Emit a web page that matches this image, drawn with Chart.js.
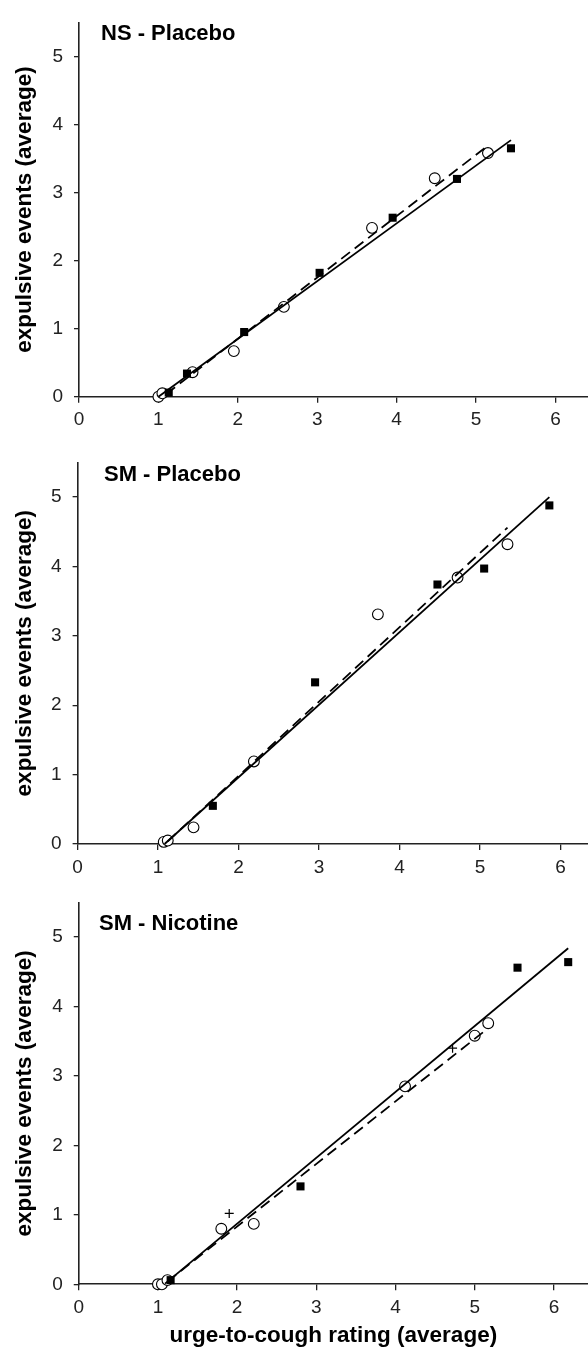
<!DOCTYPE html>
<html>
<head>
<meta charset="utf-8">
<script src="https://cdn.jsdelivr.net/npm/chart.js@4.4.1/dist/chart.umd.min.js"></script>
<style>
  html, body { margin: 0; padding: 0; background: #fff; overflow: hidden; }
  #wrap { position: relative; width: 588px; height: 1355px; }
  #wrap canvas { position: absolute; left: 0; }
  .ptitle {
    position: absolute;
    font: bold 22px 'Liberation Sans', Arial, sans-serif;
    line-height: 22px;
    color: #000;
    white-space: nowrap;
  }
</style>
</head>
<body>
<div id="wrap">
  <canvas id="c1" width="588" height="440" style="top:0px"></canvas>
  <canvas id="c2" width="588" height="440" style="top:440px"></canvas>
  <canvas id="c3" width="588" height="475" style="top:880px"></canvas>
  <div class="ptitle" style="left:101px; top:22px">NS - Placebo</div>
  <div class="ptitle" style="left:104px; top:463px">SM - Placebo</div>
  <div class="ptitle" style="left:99px; top:912px">SM - Nicotine</div>
</div>
<script>
// tick values
const xTicks = [0, 1, 2, 3, 4, 5, 6];
const yTicks = [0, 1, 2, 3, 4, 5];

// NS - Placebo
const ns_sqX = [1.13, 1.36, 2.08, 3.03, 3.95, 4.76, 5.44];
const ns_sqY = [0.06, 0.34, 0.95, 1.82, 2.63, 3.20, 3.65];
const ns_ciX = [1.00, 1.05, 1.43, 1.95, 2.58, 3.69, 4.48, 5.15];
const ns_ciY = [0.00, 0.05, 0.36, 0.67, 1.32, 2.48, 3.21, 3.58];
const ns_fitX = [1.00, 5.44];
const ns_fitY = [0.00, 3.77];
const ns_dashX = [1.10, 5.15];
const ns_dashY = [0.04, 3.69];

// SM - Placebo
const smp_sqX = [1.68, 2.95, 4.47, 5.05, 5.86];
const smp_sqY = [0.55, 2.33, 3.74, 3.97, 4.88];
const smp_ciX = [1.07, 1.12, 1.44, 2.19, 3.73, 4.72, 5.34];
const smp_ciY = [0.03, 0.05, 0.24, 1.19, 3.31, 3.84, 4.32];
const smp_fitX = [1.08, 5.86];
const smp_fitY = [0.00, 5.00];
const smp_dashX = [1.12, 5.34];
const smp_dashY = [0.04, 4.56];

// SM - Nicotine
const smn_sqX = [1.16, 2.80, 5.54, 6.18];
const smn_sqY = [0.06, 1.41, 4.56, 4.64];
const smn_ciX = [1.00, 1.05, 1.12, 1.80, 2.21, 4.12, 5.00, 5.17];
const smn_ciY = [0.00, 0.00, 0.06, 0.80, 0.87, 2.85, 3.58, 3.76];
const smn_crX = [1.90, 4.72];
const smn_crY = [1.02, 3.40];
const smn_fitX = [1.09, 6.18];
const smn_fitY = [0.01, 4.84];
const smn_dashX = [1.12, 5.16];
const smn_dashY = [0.04, 3.68];

const FONT = "'Liberation Sans', Arial, sans-serif";

function pts(xs, ys) {
    return xs.map((x, i) => ({ x: x, y: ys[i] }));
}

function lineSet(xs, ys, dash) {
    return {
        data: pts(xs, ys),
        showLine: true,
        borderColor: '#000',
        borderWidth: 1.8,
        borderDash: dash,
        pointRadius: 0,
        clip: false,
        order: 0
    };
}

function squareSet(xs, ys) {
    return {
        data: pts(xs, ys),
        pointStyle: 'rect',
        pointRadius: 5.7,
        backgroundColor: '#000',
        borderColor: '#000',
        borderWidth: 0,
        clip: false,
        order: 1
    };
}

function circleSet(xs, ys) {
    return {
        data: pts(xs, ys),
        pointStyle: 'circle',
        pointRadius: 5.4,
        backgroundColor: '#fff',
        borderColor: '#000',
        borderWidth: 1.1,
        clip: false,
        order: 1
    };
}

function crossSet(xs, ys) {
    return {
        data: pts(xs, ys),
        pointStyle: 'cross',
        pointRadius: 4.5,
        borderColor: '#000',
        borderWidth: 1.2,
        clip: false,
        order: 1
    };
}

// one panel; left/top/axisH place the plot area like the figure
function makePanel(id, datasets, p) {
    new Chart(document.getElementById(id).getContext('2d'), {
        type: 'scatter',
        data: { datasets: datasets },
        options: {
            responsive: false,
            animation: false,
            devicePixelRatio: 1,
            layout: { autoPadding: false, padding: { top: p.top, left: 0, right: 0, bottom: 0 } },
            plugins: { legend: { display: false }, tooltip: { enabled: false } },
            scales: {
                x: {
                    type: 'linear',
                    min: 0,
                    max: p.xMax,
                    afterBuildTicks: s => { s.ticks = xTicks.map(v => ({ value: v })); },
                    afterFit: s => { s.height = p.axisH; },
                    grid: { drawOnChartArea: false, drawTicks: true, tickLength: 6, color: '#222', lineWidth: 1.3 },
                    border: { display: true, color: '#222', width: 1.6 },
                    ticks: { color: '#222', padding: 6, font: { family: FONT, size: 19 }, maxRotation: 0 },
                    title: {
                        display: !!p.xTitle,
                        text: p.xTitle || '',
                        color: '#000',
                        font: { family: FONT, size: 22.5, weight: 'bold', lineHeight: 1.2 },
                        padding: { top: 0, bottom: 6 }
                    }
                },
                y: {
                    type: 'linear',
                    min: 0,
                    max: 5.5,
                    afterBuildTicks: s => { s.ticks = yTicks.map(v => ({ value: v })); },
                    afterFit: s => { s.width = p.left; },
                    grid: { drawOnChartArea: false, drawTicks: true, tickLength: 5, color: '#222', lineWidth: 1.3 },
                    border: { display: true, color: '#222', width: 1.6 },
                    ticks: { color: '#222', padding: 11, font: { family: FONT, size: 19 } },
                    title: {
                        display: true,
                        text: 'expulsive events (average)',
                        color: '#000',
                        font: { family: FONT, size: 22.5, weight: 'bold', lineHeight: 1.2 },
                        padding: { top: 11, bottom: 0 }
                    }
                }
            }
        }
    });
}

makePanel('c1', [
    lineSet(ns_fitX, ns_fitY, []),
    lineSet(ns_dashX, ns_dashY, [11, 6]),
    squareSet(ns_sqX, ns_sqY),
    circleSet(ns_ciX, ns_ciY)
], { top: 10, left: 79, axisH: 43.3, xMax: 6.41 });

makePanel('c2', [
    lineSet(smp_fitX, smp_fitY, []),
    lineSet(smp_dashX, smp_dashY, [11, 6]),
    squareSet(smp_sqX, smp_sqY),
    circleSet(smp_ciX, smp_ciY)
], { top: 12.7, left: 77.6, axisH: 36, xMax: 6.34 });

makePanel('c3', [
    lineSet(smn_fitX, smn_fitY, []),
    lineSet(smn_dashX, smn_dashY, [11, 6]),
    squareSet(smn_sqX, smn_sqY),
    circleSet(smn_ciX, smn_ciY),
    crossSet(smn_crX, smn_crY)
], { top: 19.3, left: 78.75, axisH: 70.7, xMax: 6.43, xTitle: 'urge-to-cough rating (average)' });
</script>
</body>
</html>
